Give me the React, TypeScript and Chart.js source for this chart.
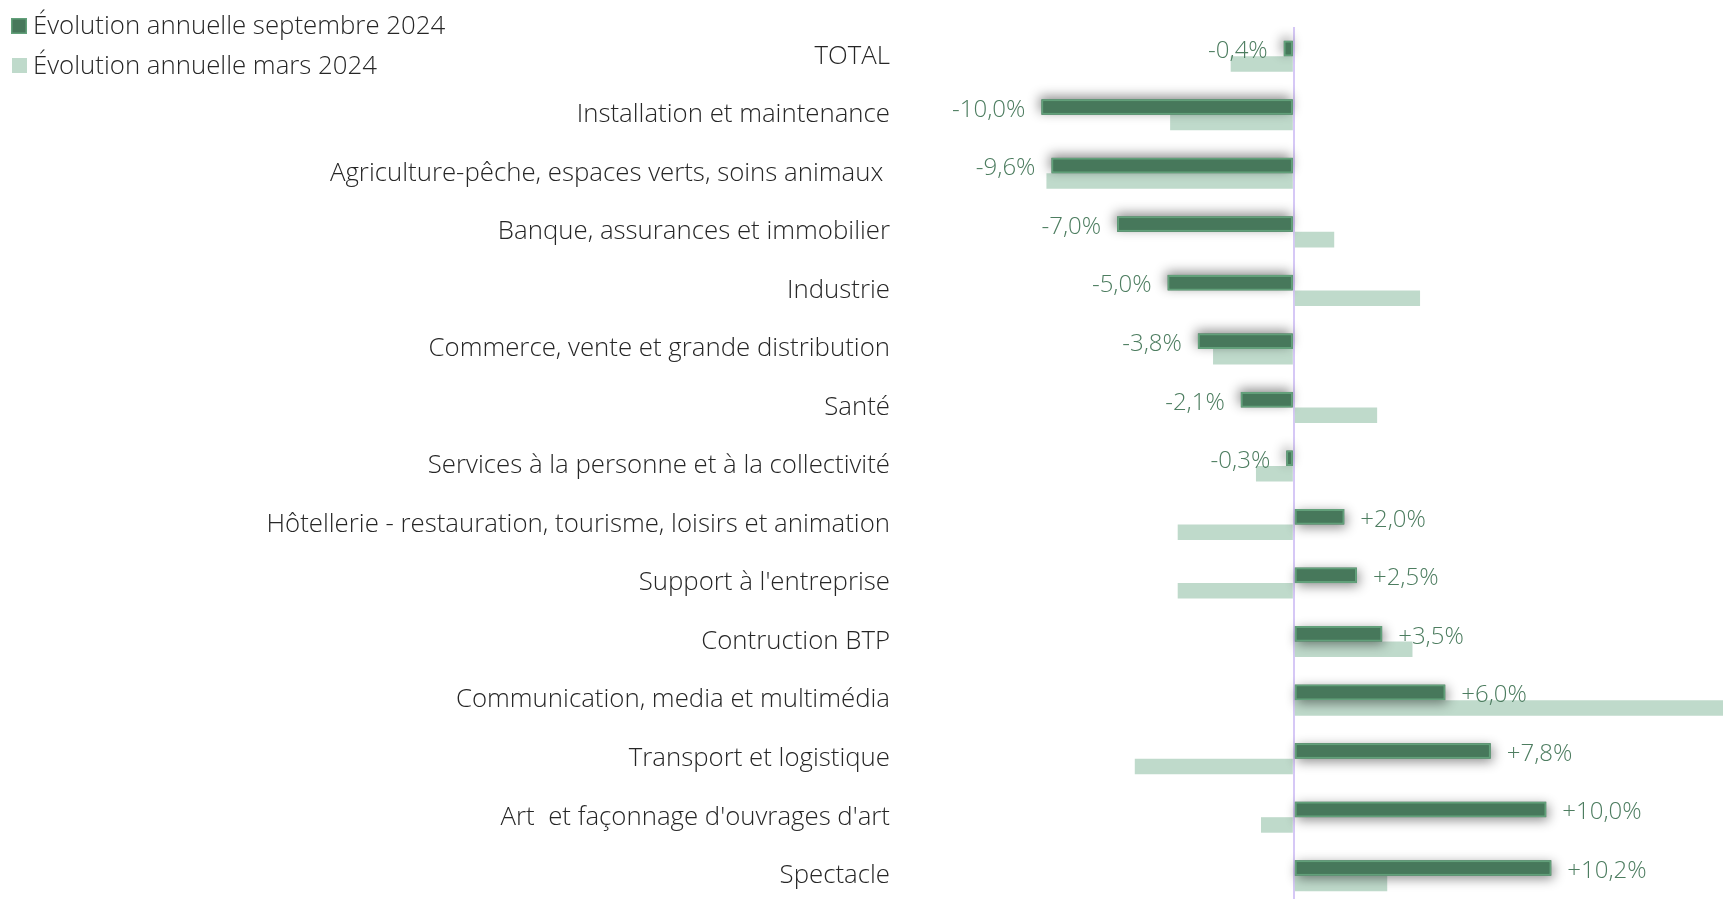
import React, { useEffect, useRef } from 'react';
import { Chart, registerables } from 'chart.js';

Chart.register(...registerables);

const categories = [
  'TOTAL',
  'Installation et maintenance',
  'Agriculture-pêche, espaces verts, soins animaux ',
  'Banque, assurances et immobilier',
  'Industrie',
  'Commerce, vente et grande distribution',
  'Santé',
  'Services à la personne et à la collectivité',
  'Hôtellerie - restauration, tourisme, loisirs et animation',
  "Support à l'entreprise",
  'Contruction BTP',
  'Communication, media et multimédia',
  'Transport et logistique',
  "Art  et façonnage d'ouvrages d'art",
  'Spectacle',
];

const sept2024 = [-0.4, -10.0, -9.6, -7.0, -5.0, -3.8, -2.1, -0.3, 2.0, 2.5, 3.5, 6.0, 7.8, 10.0, 10.2];
const mars2024 = [-2.5, -4.9, -9.8, 1.6, 5.0, -3.2, 3.3, -1.5, -4.6, -4.6, 4.7, 18.0, -6.3, -1.3, 3.7];

const seriesLabels = ['Évolution annuelle septembre 2024', 'Évolution annuelle mars 2024'];

const FONT = '"Open Sans", sans-serif';
const DARK = '#47785b';
const DARK_BORDER = '#62a07a';
const LIGHT = '#bfdacb';
const VALUE_COLOR = '#4d7d60';
const TEXT_COLOR = '#262626';

export default function App() {
  const ref = useRef<HTMLCanvasElement>(null);

  useEffect(() => {
    document.body.style.margin = '0';
    const canvas = ref.current!;
    const fmt = (v: number) => (v > 0 ? '+' : '') + v.toFixed(1).replace('.', ',') + '%';

    const shadowPlugin = {
      id: 'barShadow',
      beforeDatasetDraw(chart: any, args: any) {
        if (args.index !== 0) return;
        const c = chart.ctx;
        const data = chart.data.datasets[0].data as number[];
        c.save();
        args.meta.data.forEach((el: any, i: number) => {
          const s = data[i] < 0 ? -1 : 1;
          const { x, y, base, height } = el.getProps(['x', 'y', 'base', 'height'], true);
          const left = Math.min(x, base);
          const w = Math.abs(x - base);
          c.save();
          c.shadowColor = 'rgba(0,0,0,0.45)';
          c.shadowBlur = 12;
          c.shadowOffsetX = 2 * s;
          c.shadowOffsetY = 3 * s;
          c.fillStyle = DARK;
          c.fillRect(left, y - height / 2, w, height);
          c.restore();
        });
        c.restore();
      },
    };

    const valueLabels = {
      id: 'valueLabels',
      afterDatasetsDraw(chart: any) {
        const c = chart.ctx;
        const meta = chart.getDatasetMeta(0);
        const data = chart.data.datasets[0].data as number[];
        c.save();
        c.font = `300 24px ${FONT}`;
        c.fillStyle = VALUE_COLOR;
        c.textBaseline = 'middle';
        meta.data.forEach((el: any, i: number) => {
          const v = data[i];
          if (v < 0) {
            c.textAlign = 'right';
            c.fillText(fmt(v), el.x - 16, el.y + 3);
          } else {
            c.textAlign = 'left';
            c.fillText(fmt(v), el.x + 16, el.y + 3);
          }
        });
        c.restore();
      },
    };

    const legendPlugin = {
      id: 'cornerLegend',
      afterDraw(chart: any) {
        const c = chart.ctx;
        const ds = chart.data.datasets;
        c.save();
        c.fillStyle = ds[0].backgroundColor;
        c.fillRect(11, 18, 16, 16);
        c.strokeStyle = ds[0].borderColor;
        c.lineWidth = 1.5;
        c.strokeRect(11.75, 18.75, 14.5, 14.5);
        c.fillStyle = ds[1].backgroundColor;
        c.fillRect(12, 58, 15, 15);
        c.font = `300 25.8px ${FONT}`;
        c.fillStyle = TEXT_COLOR;
        c.textAlign = 'left';
        c.textBaseline = 'middle';
        c.fillText(ds[0].label, 33, 27);
        c.fillText(ds[1].label, 33, 67);
        c.restore();
      },
    };

    const chart = new Chart(canvas, {
      type: 'bar',
      data: {
        labels: categories,
        datasets: [
          {
            label: seriesLabels[0],
            data: sept2024,
            backgroundColor: DARK,
            borderColor: DARK_BORDER,
            borderWidth: 2,
            borderSkipped: false,
            categoryPercentage: 0.53,
            barPercentage: 1,
          },
          {
            label: seriesLabels[1],
            data: mars2024,
            backgroundColor: LIGHT,
            borderWidth: 0,
            categoryPercentage: 0.53,
            barPercentage: 1,
          },
        ],
      },
      options: {
        indexAxis: 'y',
        responsive: false,
        animation: false,
        layout: { padding: { top: 27, left: 0, right: 0, bottom: 0 } },
        plugins: {
          legend: { display: false },
          tooltip: { enabled: false },
        },
        scales: {
          x: {
            min: -15.6,
            max: 17.0,
            ticks: { display: false, stepSize: 1 },
            border: { display: false },
            grid: {
              drawTicks: false,
              color: (ctx: any) => (ctx.tick && ctx.tick.value === 0 ? '#d6c8f6' : 'rgba(0,0,0,0)'),
              lineWidth: (ctx: any) => (ctx.tick && ctx.tick.value === 0 ? 2 : 0),
            },
            afterFit: (axis: any) => {
              axis.height = 0;
              axis.paddingLeft = 0;
              axis.paddingRight = 0;
            },
          },
          y: {
            grid: { display: false, drawTicks: false },
            border: { display: false },
            ticks: {
              autoSkip: false,
              padding: 10,
              color: TEXT_COLOR,
              font: { family: FONT, size: 25.8, weight: '300' },
            },
            afterFit: (axis: any) => {
              axis.width = 900;
              axis.paddingTop = 0;
              axis.paddingBottom = 0;
            },
          },
        },
      },
      plugins: [shadowPlugin, valueLabels, legendPlugin],
    } as any);

    return () => chart.destroy();
  }, []);

  return (
    <div style={{ position: 'fixed', left: 0, top: 0, width: 1723, height: 899, overflow: 'hidden', background: '#fff' }}>
      <canvas ref={ref} width={1723} height={905} style={{ display: 'block', width: 1723, height: 905 }} />
    </div>
  );
}
